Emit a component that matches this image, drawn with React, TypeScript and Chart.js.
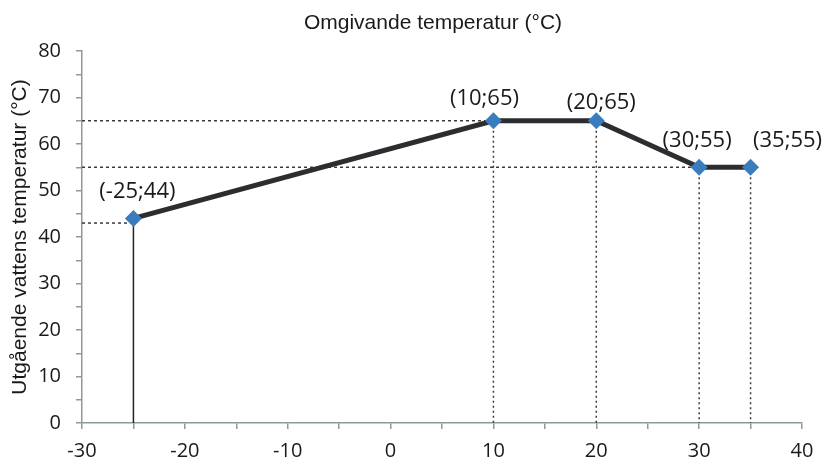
import React, { useEffect, useRef } from "react";
import { Chart, registerables } from "chart.js";

Chart.register(...registerables);

// ---- data ----
const pointX = [-25, 10, 20, 30, 35];
const pointY = [44, 65, 65, 55, 55];
const xTicksMin = -30;
const xTicksMax = 40;
const yTicksMin = 0;
const yTicksMax = 80;
const chartTitle = "Omgivande temperatur (°C)";
const yTitle = "Utgående vattens temperatur (°C)";
// horizontal dotted guides: level and x where they end
const hGuideY = [43, 65, 55];
const hGuideXEnd = [-25, 10, 30];
// vertical dotted guides (from point down to 0)
const vGuideX = [10, 20, 30, 35];
// solid vertical guide
const solidGuideX = -25;
const solidGuideTop = 44;

// label offsets (px) relative to each point
const labelDX = [4, -9, 5, -2, 37];
const labelDY = [-27, -22, -18, -27, -27];

const AXIS_COLOR = "#8e9a9a";
const TEXT_COLOR = "#1a1a1a";

export default function App() {
  const ref = useRef<HTMLCanvasElement | null>(null);

  useEffect(() => {
    if (!ref.current) return;

    const yOf = (x: number) => {
      const i = pointX.indexOf(x);
      return i >= 0 ? pointY[i] : 0;
    };

    const guideSets: any[] = [];
    hGuideY.forEach((y, i) => {
      guideSets.push({
        data: [
          { x: xTicksMin, y },
          { x: hGuideXEnd[i], y },
        ],
        borderColor: "#3a3a3a",
        borderWidth: 1.5,
        borderDash: [3, 3],
        pointRadius: 0,
        tension: 0,
      });
    });
    vGuideX.forEach((x) => {
      guideSets.push({
        data: [
          { x, y: yOf(x) },
          { x, y: yTicksMin },
        ],
        borderColor: "#3a3a3a",
        borderWidth: 1.5,
        borderDash: [2, 3],
        pointRadius: 0,
        tension: 0,
      });
    });
    guideSets.push({
      data: [
        { x: solidGuideX, y: solidGuideTop },
        { x: solidGuideX, y: yTicksMin },
      ],
      borderColor: "#222",
      borderWidth: 1.5,
      pointRadius: 0,
      tension: 0,
    });

    const titlePlugin = {
      id: "topTitle",
      afterDraw(chart: any) {
        const ctx = chart.ctx;
        ctx.save();
        ctx.font = "21px 'Liberation Sans', Arial, sans-serif";
        ctx.fillStyle = TEXT_COLOR;
        ctx.textAlign = "center";
        ctx.textBaseline = "middle";
        ctx.fillText(chartTitle, 433, 23);
        ctx.restore();
      },
    };

    const labelPlugin = {
      id: "pointLabels",
      afterDatasetsDraw(chart: any) {
        const meta = chart.getDatasetMeta(0);
        const ctx = chart.ctx;
        ctx.save();
        ctx.font = "22px 'Open Sans', sans-serif";
        ctx.fillStyle = TEXT_COLOR;
        ctx.textAlign = "center";
        ctx.textBaseline = "middle";
        meta.data.forEach((el: any, i: number) => {
          ctx.fillText(
            `(${pointX[i]};${pointY[i]})`,
            el.x + labelDX[i],
            el.y + labelDY[i]
          );
        });
        ctx.restore();
      },
    };

    const chart = new Chart(ref.current, {
      type: "line",
      data: {
        datasets: [
          {
            data: pointX.map((x, i) => ({ x, y: pointY[i] })),
            borderColor: "#2b2d31",
            borderWidth: 5,
            pointStyle: "rectRot",
            pointRadius: 8.5,
            pointBackgroundColor: "#3a7dbf",
            pointBorderColor: "#3a7dbf",
            pointBorderWidth: 0,
            tension: 0,
          },
          ...guideSets,
        ],
      },
      options: {
        responsive: false,
        animation: false,
        events: [],
        layout: { padding: { left: 0, right: 24, top: 51, bottom: 0 } },
        plugins: {
          legend: { display: false },
          tooltip: { enabled: false },
          title: { display: false },
        },
        scales: {
          x: {
            type: "linear",
            min: xTicksMin,
            max: xTicksMax,
            afterFit: (s: any) => {
              s.height = 41;
            },
            ticks: {
              stepSize: 5,
              autoSkip: false,
              maxRotation: 0,
              padding: 10,
              color: TEXT_COLOR,
              font: { family: "'Open Sans', sans-serif", size: 20 },
              callback: (v: any) => (Number(v) % 10 === 0 ? String(v) : ""),
            },
            grid: {
              drawOnChartArea: false,
              drawTicks: true,
              tickLength: 6,
              color: AXIS_COLOR,
              lineWidth: 1.5,
            },
            border: { display: true, color: AXIS_COLOR, width: 1.5 },
          },
          y: {
            type: "linear",
            min: yTicksMin,
            max: yTicksMax,
            afterFit: (s: any) => {
              s.width = 82;
            },
            title: {
              display: true,
              text: yTitle,
              color: TEXT_COLOR,
              font: { family: "'Liberation Sans', Arial, sans-serif", size: 21 },
              padding: { top: 8, bottom: 0 },
            },
            ticks: {
              stepSize: 5,
              autoSkip: false,
              padding: 15,
              color: TEXT_COLOR,
              font: { family: "'Open Sans', sans-serif", size: 20 },
              callback: (v: any) => (Number(v) % 10 === 0 ? String(v) : ""),
            },
            grid: {
              drawOnChartArea: false,
              drawTicks: true,
              tickLength: 6,
              color: AXIS_COLOR,
              lineWidth: 1.5,
            },
            border: { display: true, color: AXIS_COLOR, width: 1.5 },
          },
        },
      },
      plugins: [titlePlugin, labelPlugin],
    } as any);

    return () => chart.destroy();
  }, []);

  return (
    <div
      style={{
        position: "fixed",
        left: 0,
        top: 0,
        width: 826,
        height: 464,
        background: "#fff",
      }}
    >
      <canvas ref={ref} width={826} height={464} style={{ display: "block" }} />
    </div>
  );
}
